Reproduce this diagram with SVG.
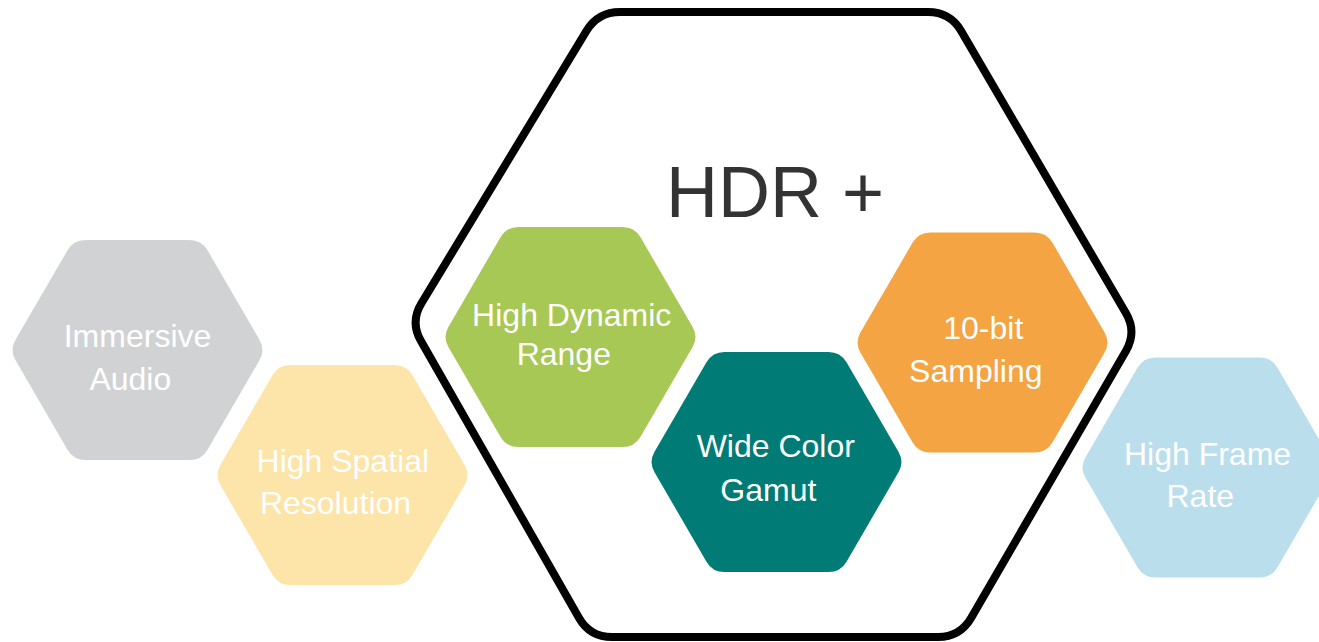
<svg xmlns="http://www.w3.org/2000/svg" width="1319" height="642" viewBox="0 0 1319 642">
<style>
  .lbl { font-family: "Liberation Sans", Arial, sans-serif; font-size: 32px; fill: #ffffff; text-anchor: middle; }
  .title { font-family: "Liberation Sans", Arial, sans-serif; font-size: 72px; fill: #333333; }
  .frame { fill: none; stroke: #000000; stroke-width: 8; stroke-linejoin: round; }
</style>
<defs>
  <path id="hex" d="M -52 -110 L 52 -110 Q 64 -110 70.03 -99.63 L 121.97 -10.37 Q 128 0 121.97 10.37 L 70.03 99.63 Q 64 110 52 110 L -52 110 Q -64 110 -70.03 99.63 L -121.97 10.37 Q -128 0 -121.97 -10.37 L -70.03 -99.63 Q -64 -110 -52 -110 Z"/>
</defs>
<rect width="1319" height="642" fill="#ffffff"/>
<g id="hdr-frame">
  <path class="frame" d="M 620 12 L 928 12 Q 950 12 961.15 30.97 L 1125.85 313.03 Q 1137 332 1125.91 351 L 971.09 618 Q 960 637 938 637 L 612 637 Q 590 637 579.04 617.92 L 420.96 341.08 Q 410 322 421.45 303.22 L 586.55 30.78 Q 598 12 620 12 Z"/>
  <text class="title" x="666" y="217">HDR +</text>
</g>
<g id="immersive-audio">
  <use href="#hex" transform="translate(137.5 350)" fill="#D1D2D4"/>
  <text class="lbl" x="137.5" y="347">Immersive</text>
  <text class="lbl" x="130.3" y="390">Audio</text>
</g>
<g id="high-spatial-resolution">
  <use href="#hex" transform="translate(342.5 475)" fill="#FDE4A8"/>
  <text class="lbl" x="342.8" y="472">High Spatial</text>
  <text class="lbl" x="335.5" y="514">Resolution</text>
</g>
<g id="high-dynamic-range">
  <use href="#hex" transform="translate(570.5 337)" fill="#A7C855"/>
  <text class="lbl" x="571.7" y="326">High Dynamic</text>
  <text class="lbl" x="563.8" y="365">Range</text>
</g>
<g id="wide-color-gamut">
  <use href="#hex" transform="translate(776.5 462)" fill="#017B75"/>
  <text class="lbl" x="775.8" y="457">Wide Color</text>
  <text class="lbl" x="768.3" y="501">Gamut</text>
</g>
<g id="ten-bit-sampling">
  <use href="#hex" transform="translate(982.5 342.5)" fill="#F4A442"/>
  <text class="lbl" x="983.3" y="339">10-bit</text>
  <text class="lbl" x="975.8" y="382">Sampling</text>
</g>
<g id="high-frame-rate">
  <use href="#hex" transform="translate(1207.5 467.5)" fill="#BBDEED"/>
  <text class="lbl" x="1207.5" y="465">High Frame</text>
  <text class="lbl" x="1200.3" y="507">Rate</text>
</g>
<g id="connectors"></g>
</svg>
